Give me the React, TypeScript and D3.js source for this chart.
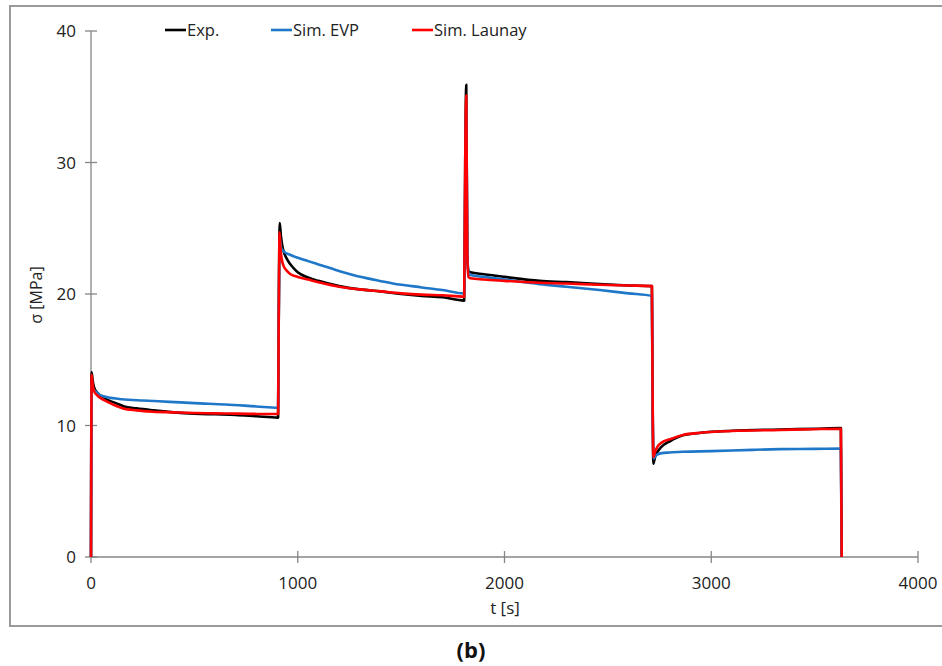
import React from "react";
import * as d3 from "d3";

// time [s], stress [MPa]
const expT = [0, 3, 8, 15, 30, 50, 80, 120, 160, 220, 300, 400, 500, 600, 700, 800, 905, 908, 913, 918, 925, 935, 950, 975, 1000, 1050, 1100, 1200, 1300, 1400, 1500, 1600, 1700, 1805, 1810, 1815, 1820, 1826, 1835, 1900, 2000, 2170, 2300, 2460, 2600, 2713, 2716, 2720, 2728, 2740, 2760, 2800, 2863, 2950, 3100, 3333, 3500, 3627, 3631];
const expV = [0, 14.05, 13.4, 12.9, 12.5, 12.2, 11.95, 11.7, 11.45, 11.3, 11.15, 11.0, 10.9, 10.85, 10.8, 10.7, 10.6, 18.0, 25.4, 24.5, 23.7, 23.1, 22.6, 22.05, 21.65, 21.25, 21.0, 20.6, 20.35, 20.2, 20.0, 19.85, 19.75, 19.5, 30.0, 35.9, 23.0, 21.75, 21.65, 21.5, 21.3, 21.0, 20.9, 20.75, 20.65, 20.6, 13.0, 7.1, 7.6, 8.0, 8.4, 8.8, 9.25, 9.45, 9.6, 9.7, 9.75, 9.8, 0];

const evpT = [0, 3, 8, 15, 30, 45, 80, 150, 250, 380, 500, 650, 800, 905, 908, 913, 920, 935, 960, 1000, 1050, 1100, 1160, 1220, 1290, 1350, 1460, 1600, 1700, 1805, 1810, 1815, 1820, 1826, 1835, 1900, 2000, 2170, 2300, 2460, 2600, 2713, 2716, 2722, 2735, 2760, 2800, 2863, 3000, 3200, 3333, 3500, 3627, 3631];
const evpV = [0, 13.2, 12.9, 12.7, 12.5, 12.3, 12.15, 12.0, 11.9, 11.8, 11.7, 11.6, 11.45, 11.35, 18.0, 24.2, 23.5, 23.2, 23.0, 22.75, 22.5, 22.25, 21.95, 21.65, 21.35, 21.15, 20.8, 20.5, 20.3, 20.05, 28.0, 34.0, 23.0, 21.6, 21.45, 21.3, 21.1, 20.75, 20.55, 20.3, 20.05, 19.85, 12.0, 7.5, 7.75, 7.9, 7.95, 8.0, 8.05, 8.15, 8.2, 8.22, 8.25, 0];

const lauT = [0, 3, 8, 15, 30, 45, 80, 120, 155, 220, 300, 400, 500, 600, 700, 800, 905, 908, 912, 916, 922, 930, 945, 965, 1000, 1050, 1100, 1200, 1300, 1400, 1500, 1600, 1700, 1805, 1810, 1815, 1820, 1826, 1835, 1900, 2000, 2170, 2300, 2460, 2600, 2713, 2716, 2720, 2728, 2740, 2760, 2800, 2863, 2950, 3100, 3333, 3500, 3627, 3631];
const lauV = [0, 13.85, 13.1, 12.6, 12.3, 12.1, 11.8, 11.5, 11.3, 11.15, 11.05, 11.0, 10.95, 10.92, 10.9, 10.88, 10.87, 18.0, 24.7, 23.6, 22.7, 22.2, 21.8, 21.5, 21.3, 21.1, 20.9, 20.55, 20.35, 20.2, 20.05, 19.95, 19.9, 19.8, 30.0, 35.1, 23.0, 21.3, 21.2, 21.1, 21.0, 20.85, 20.8, 20.7, 20.65, 20.6, 13.0, 7.6, 8.0, 8.4, 8.7, 8.95, 9.28, 9.45, 9.58, 9.66, 9.72, 9.75, 0];

const xTicks = [0, 1000, 2000, 3000, 4000];
const yTicks = [0, 10, 20, 30, 40];

const seriesNames = ["Exp.", "Sim. EVP", "Sim. Launay"];
const seriesColors = ["#000000", "#1f77c8", "#ff0000"];

const W = 942;
const H = 666;
const font = "'Open Sans', 'Liberation Sans', sans-serif";

export default function App() {
  const x = d3.scaleLinear().domain([0, 4000]).range([91, 918]);
  const y = d3.scaleLinear().domain([0, 40]).range([557, 31]);
  const line = d3
    .line<[number, number]>()
    .x((d) => x(d[0]))
    .y((d) => y(d[1]))
    .curve(d3.curveMonotoneX);

  const series: [number, number][][] = [
    expT.map((t, i) => [t, expV[i]] as [number, number]),
    evpT.map((t, i) => [t, evpV[i]] as [number, number]),
    lauT.map((t, i) => [t, lauV[i]] as [number, number]),
  ];

  const axisColor = "#868686";
  const legendX = [165, 271, 412];

  return (
    <svg
      width={W}
      height={H}
      style={{ position: "absolute", left: 0, top: 0, background: "#fff" }}
      fontFamily={font}
    >
      <rect x={0} y={0} width={W} height={H} fill="#fff" />
      {/* frame */}
      <rect x={10} y={6} width={940} height={620} fill="none" stroke="#9a9a9a" strokeWidth={2} />

      {/* axes */}
      <line x1={x(0)} x2={x(4000)} y1={y(0)} y2={y(0)} stroke={axisColor} strokeWidth={1.3} />
      <line x1={x(0)} x2={x(0)} y1={y(0)} y2={y(40)} stroke={axisColor} strokeWidth={1.3} />
      {xTicks.map((t) => (
        <g key={"xt" + t}>
          <line x1={x(t)} x2={x(t)} y1={y(0) - 6} y2={y(0) + 6} stroke={axisColor} strokeWidth={1.3} />
          <text x={x(t)} y={589} textAnchor="middle" fontSize={17} fill="#222">
            {t}
          </text>
        </g>
      ))}
      {yTicks.map((v) => (
        <g key={"yt" + v}>
          <line x1={x(0) - 6} x2={x(0) + 6} y1={y(v)} y2={y(v)} stroke={axisColor} strokeWidth={1.3} />
          <text x={76} y={y(v) + 6} textAnchor="end" fontSize={17} fill="#222">
            {v}
          </text>
        </g>
      ))}

      {/* axis titles */}
      <text x={505} y={614} textAnchor="middle" fontSize={17} fill="#222">
        t [s]
      </text>
      <text
        transform={`translate(42,295) rotate(-90)`}
        textAnchor="middle"
        fontSize={16}
        fill="#222"
      >
        σ [MPa]
      </text>

      {/* data */}
      {series.map((s, i) => (
        <path
          key={"s" + i}
          d={line(s) || ""}
          fill="none"
          stroke={seriesColors[i]}
          strokeWidth={2.6}
          strokeLinejoin="round"
        />
      ))}

      {/* legend */}
      {seriesNames.map((n, i) => (
        <g key={"lg" + i}>
          <line x1={legendX[i]} x2={legendX[i] + 21} y1={30} y2={30} stroke={seriesColors[i]} strokeWidth={2.6} />
          <text x={legendX[i] + 22} y={36} fontSize={16.5} fill="#222">
            {n}
          </text>
        </g>
      ))}

      {/* panel label */}
      <text x={471} y={658} textAnchor="middle" fontSize={22} fontWeight="bold" fill="#111">
        (b)
      </text>
    </svg>
  );
}
